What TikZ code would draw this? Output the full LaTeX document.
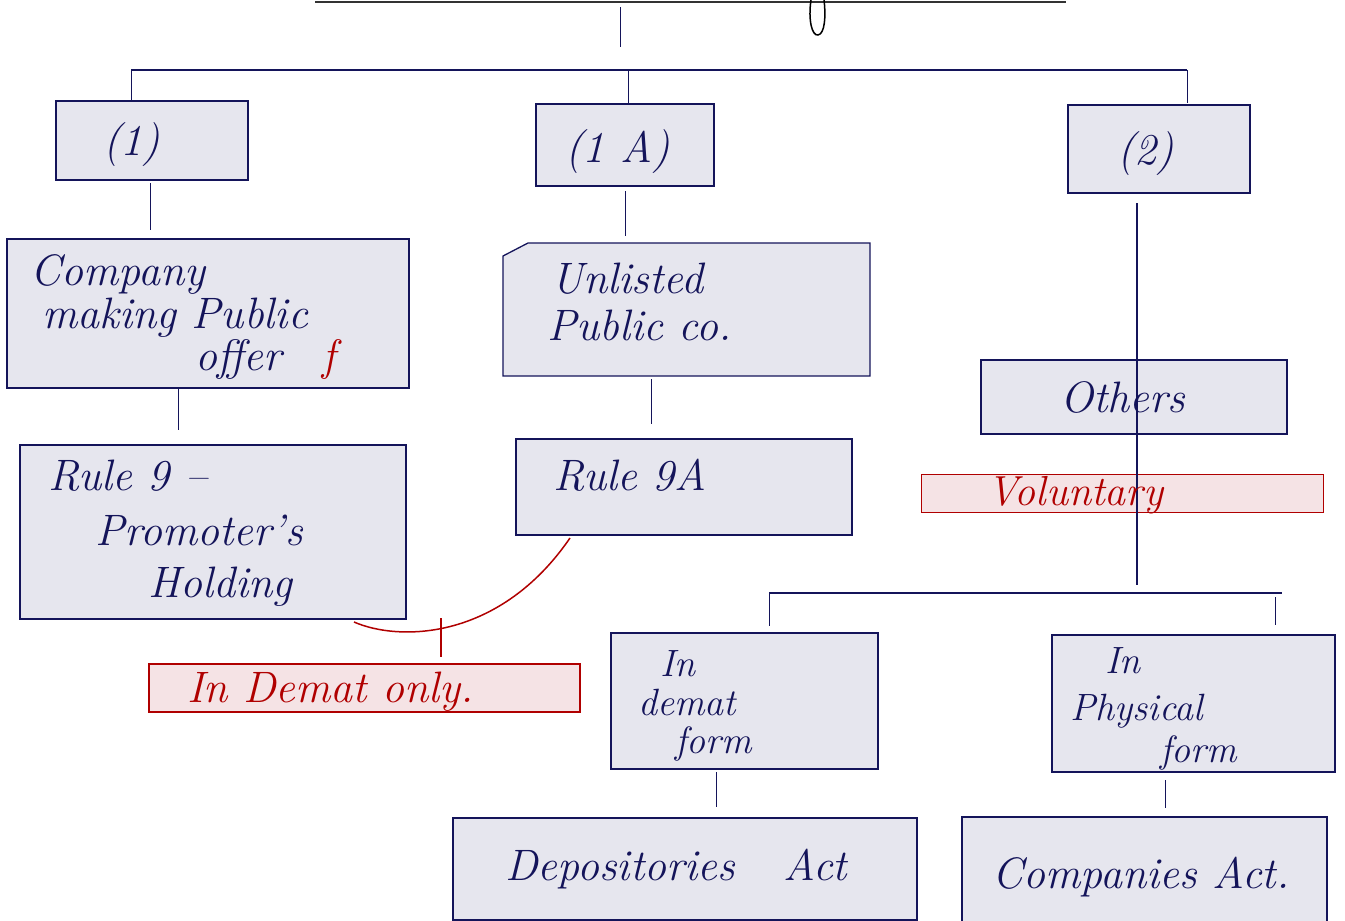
\documentclass[tikz,border=0pt]{standalone}
\usetikzlibrary{calc}
\definecolor{navy}{RGB}{20,20,90}
\definecolor{boxfill}{RGB}{230,230,238}
\definecolor{pen}{RGB}{176,0,0}
\definecolor{pinkfill}{RGB}{245,227,229}
\begin{document}
\begin{tikzpicture}[x=1pt,y=-1pt,
  box/.style={draw=navy,fill=boxfill,line width=1.3pt,inner sep=0pt},
  redbox/.style={draw=pen,fill=pinkfill,inner sep=0pt},
  conn/.style={draw=navy,line width=1pt},
  txt/.style={anchor=base west,inner sep=0pt,text=navy,font=\fontsize{44}{46}\selectfont\itshape},
  stxt/.style={txt,font=\fontsize{38}{40}\selectfont\itshape},
  rtxt/.style={anchor=base west,inner sep=0pt,text=pen,font=\fontsize{44}{46}\selectfont\itshape}]
\useasboundingbox (0,0) rectangle (1345,921);
% cropped title remnants
\draw[black!80,line width=2pt] (315,2) -- (1066,2);
\draw[black,line width=1.5pt] (811,0) .. controls (808,20) and (812,36) .. (818,35) .. controls (825,34) and (826,15) .. (824,0);
% boxes
\node[box,minimum width=192pt,minimum height=79pt] (b1) at (152,140.5) {};
\node[box,minimum width=178pt,minimum height=82pt] (b1a) at (625,145) {};
\node[box,minimum width=182pt,minimum height=88pt] (b2) at (1159,149) {};
\node[box,minimum width=402pt,minimum height=149pt] (comp) at (208,313.5) {};
\draw[box] (503,256) -- (528,243) -- (870,243) -- (870,376) -- (503,376) -- cycle;
\node[inner sep=0pt,minimum width=367pt,minimum height=133pt] (unl) at (686.5,309.5) {};
\node[box,minimum width=386pt,minimum height=174pt] (r9) at (213,532) {};
\node[box,minimum width=336pt,minimum height=96pt] (r9a) at (684,487) {};
\node[box,minimum width=306pt,minimum height=74pt] (oth) at (1134,397) {};
\node[box,minimum width=267pt,minimum height=136pt] (dem) at (744.5,701) {};
\node[box,minimum width=283pt,minimum height=137pt] (phy) at (1193.5,703.5) {};
\node[box,minimum width=464pt,minimum height=102pt] (dep) at (685,869) {};
\node[box,minimum width=365pt,minimum height=106pt] (cos) at (1144.5,870) {};
% connector coordinates
\coordinate (t0) at (620,7); \coordinate (t1) at (620,47);
\coordinate (h1) at (131,70); \coordinate (h2) at (1187,70);
\coordinate (h1b) at (131,101); \coordinate (hm) at (628,70); \coordinate (hmb) at (628,104); \coordinate (h2b) at (1187,103);
\coordinate (c1a) at (150,183); \coordinate (c1b) at (150,230);
\coordinate (c2a) at (625,191); \coordinate (c2b) at (625,236);
\coordinate (c3a) at (1137,203); \coordinate (c3b) at (1137,585);
\coordinate (c4a) at (178,388); \coordinate (c4b) at (178,430);
\coordinate (c5a) at (651,379); \coordinate (c5b) at (651,424);
\coordinate (g1) at (769,593); \coordinate (g2) at (1282,593);
\coordinate (g1b) at (769,626); \coordinate (g2a) at (1275,597); \coordinate (g2b) at (1275,625);
\coordinate (c6a) at (716,772); \coordinate (c6b) at (716,807);
\coordinate (c7a) at (1165,780); \coordinate (c7b) at (1165,808);
% red remarks
\node[redbox,draw=pen,line width=1.8pt,minimum width=431pt,minimum height=48pt] (demonly) at (364.5,688) {};
\node[redbox,line width=1pt,minimum width=402pt,minimum height=38pt] (vol) at (1122,493) {};
\coordinate (rc1) at (570,538); \coordinate (rc2) at (354,622);
\coordinate (rt1) at (441,618); \coordinate (rt2) at (441,657);
\draw[pen,line width=1.5pt] (rc2) .. controls (400,642) and (500,640) .. (rc1);
\draw[pen,line width=1.5pt] (rt1) -- (rt2);
% connectors
\draw[conn] (t0) -- (t1);
\draw[conn,line width=1.3pt] (h1) -- (h2);
\draw[conn] (h1) -- (h1b);
\draw[conn] (hm) -- (hmb);
\draw[conn] (h2) -- (h2b);
\draw[conn] (c1a) -- (c1b);
\draw[conn] (c2a) -- (c2b);
\draw[conn,line width=1.3pt] (c3a) -- (c3b);
\draw[conn] (c4a) -- (c4b);
\draw[conn] (c5a) -- (c5b);
\draw[conn,line width=1.3pt] (g1) -- (g2);
\draw[conn] (g1) -- (g1b);
\draw[conn] (g2a) -- (g2b);
\draw[conn] (c6a) -- (c6b);
\draw[conn] (c7a) -- (c7b);
% texts
\node[txt] (t1l) at (103,155) {(1)};
\node[txt] (t1al) at (565,162) {(1 A)};
\node[txt] (t2l) at (1117,164) {(2)};
\node[txt] (tc1) at (30,285) {Company};
\node[txt] (tc2) at (42,328) {making Public};
\node[txt] (tc3) at (195,370) {offer};
\node[rtxt] (tcf) at (322,370) {f};
\node[txt] (tu1) at (551,293) {Unlisted};
\node[txt] (tu2) at (547,340) {Public co.};
\node[txt] (tr1) at (48,490) {Rule 9 --};
\node[txt] (tr2) at (95,545) {Promoter's};
\node[txt] (tr3) at (148,597) {Holding};
\node[txt] (tr9a) at (553,490) {Rule 9A};
\node[txt] (toth) at (1060,412) {Others};
\node[rtxt,font=\fontsize{42}{44}\selectfont\itshape] (tvol) at (987,505) {Voluntary};
\node[rtxt] (tdo) at (187,702) {In Demat only.};
\node[stxt] (td1) at (660,676) {In};
\node[stxt] (td2) at (638,715) {demat};
\node[stxt] (td3) at (675,753) {form};
\node[stxt] (tp1) at (1105,673) {In};
\node[stxt] (tp2) at (1070,720) {Physical};
\node[stxt] (tp3) at (1160,762) {form};
\node[txt] (tdep) at (505,880) {Depositories};
\node[txt] (tdepact) at (783,880) {Act};
\node[txt] (tcos) at (992,888) {Companies Act.};
\end{tikzpicture}
\end{document}
